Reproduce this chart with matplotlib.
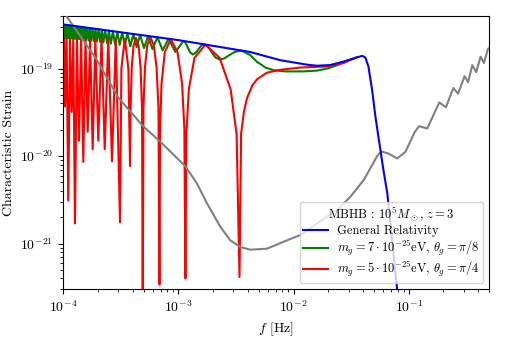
import matplotlib
matplotlib.use("Agg")
import matplotlib.pyplot as plt

# ===== STYLE =====
plt.rcParams["font.family"] = "serif"
plt.rcParams["font.serif"] = ["cmr10", "DejaVu Serif"]
plt.rcParams["mathtext.fontset"] = "cm"
plt.rcParams["axes.formatter.use_mathtext"] = True
plt.rcParams["font.size"] = 10

# ===== DATA =====
# General Relativity
gr_f = [1.0e-4, 1.0e-3, 3.44e-3, 4.2e-3, 7.66e-3, 1.31e-2, 1.6e-2, 2.08e-2, 2.55e-2,
        3.11e-2, 3.5e-2, 3.94e-2, 4.2e-2, 4.46e-2, 4.8e-2, 5.13e-2, 5.5e-2, 6.02e-2,
        6.5e-2, 7.9e-2, 8.5e-2]
gr_h = [3.2e-19, 2.12e-19, 1.62e-19, 1.55e-19, 1.25e-19, 1.11e-19, 1.08e-19, 1.10e-19,
        1.18e-19, 1.27e-19, 1.34e-19, 1.40e-19, 1.34e-19, 1.06e-19, 5.74e-20, 2.84e-20,
        1.53e-20, 6.95e-21, 3.8e-21, 3.1e-22, 1.3e-22]

# m_g = 7e-25 eV, theta_g = pi/8
mg7_f = [1.000e-4, 1.008e-4, 1.024e-4, 1.040e-4, 1.057e-4, 1.075e-4, 1.093e-4, 1.112e-4,
         1.132e-4, 1.152e-4, 1.173e-4, 1.195e-4, 1.217e-4, 1.241e-4, 1.265e-4, 1.291e-4,
         1.317e-4, 1.345e-4, 1.373e-4, 1.404e-4, 1.435e-4, 1.467e-4, 1.500e-4, 1.537e-4,
         1.575e-4, 1.617e-4, 1.660e-4, 1.705e-4, 1.750e-4, 1.800e-4, 1.850e-4, 1.905e-4,
         1.960e-4, 2.025e-4, 2.090e-4, 2.160e-4, 2.230e-4, 2.310e-4, 2.400e-4, 2.490e-4,
         2.590e-4, 2.700e-4, 2.820e-4, 2.950e-4, 3.090e-4, 3.250e-4, 3.420e-4, 3.610e-4,
         3.820e-4, 4.060e-4, 4.340e-4, 4.650e-4, 5.020e-4, 5.450e-4, 5.940e-4, 6.580e-4,
         7.290e-4, 8.200e-4, 9.430e-4, 1.104e-3, 1.153e-3, 1.267e-3, 1.333e-3, 1.406e-3,
         1.577e-3, 1.680e-3, 1.800e-3, 1.934e-3, 2.090e-3, 2.280e-3, 2.500e-3, 2.770e-3,
         3.100e-3, 3.530e-3, 4.200e-3, 4.800e-3, 5.700e-3, 6.700e-3, 8.500e-3, 1.200e-2,
         1.600e-2, 2.000e-2, 2.400e-2, 2.800e-2, 3.200e-2, 3.600e-2]
mg7_h = [2.5e-19, 3.19e-19, 2.23e-19, 3.18e-19, 2.23e-19, 3.16e-19, 2.22e-19, 3.14e-19,
         2.22e-19, 3.12e-19, 2.21e-19, 3.10e-19, 2.20e-19, 3.08e-19, 2.19e-19, 3.06e-19,
         2.18e-19, 3.03e-19, 2.17e-19, 3.01e-19, 2.15e-19, 2.99e-19, 2.14e-19, 2.96e-19,
         2.12e-19, 2.93e-19, 2.10e-19, 2.90e-19, 2.08e-19, 2.88e-19, 2.06e-19, 2.85e-19,
         2.04e-19, 2.82e-19, 2.02e-19, 2.79e-19, 1.99e-19, 2.75e-19, 1.96e-19, 2.72e-19,
         1.93e-19, 2.67e-19, 1.90e-19, 2.63e-19, 1.87e-19, 2.59e-19, 1.84e-19, 2.54e-19,
         1.80e-19, 2.48e-19, 1.76e-19, 2.43e-19, 1.72e-19, 2.36e-19, 1.68e-19, 2.28e-19,
         1.62e-19, 2.19e-19, 1.55e-19, 2.08e-19, 1.97e-19, 1.53e-19, 1.45e-19, 1.51e-19,
         1.83e-19, 1.90e-19, 1.80e-19, 1.56e-19, 1.35e-19, 1.27e-19, 1.31e-19, 1.43e-19,
         1.56e-19, 1.61e-19, 1.43e-19, 1.20e-19, 1.03e-19, 9.6e-20, 9.3e-20, 9.3e-20,
         9.5e-20, 1.01e-19, 1.10e-19, 1.20e-19, 1.28e-19, 1.35e-19]

# m_g = 5e-25 eV, theta_g = pi/4
mg5_f = [1.000e-4, 1.017e-4, 1.035e-4, 1.070e-4, 1.105e-4, 1.143e-4, 1.183e-4, 1.222e-4,
         1.264e-4, 1.315e-4, 1.370e-4, 1.430e-4, 1.493e-4, 1.560e-4, 1.630e-4, 1.710e-4,
         1.800e-4, 1.900e-4, 2.015e-4, 2.150e-4, 2.290e-4, 2.460e-4, 2.650e-4, 2.860e-4,
         3.110e-4, 3.197e-4, 3.420e-4, 3.678e-4, 3.800e-4, 3.843e-4, 3.932e-4, 4.073e-4,
         4.280e-4, 4.510e-4, 4.695e-4, 4.830e-4, 4.900e-4, 4.970e-4, 5.120e-4, 5.360e-4,
         5.710e-4, 6.110e-4, 6.460e-4, 6.710e-4, 6.840e-4, 6.930e-4, 7.130e-4, 7.610e-4,
         8.580e-4, 9.820e-4, 1.076e-3, 1.126e-3, 1.150e-3, 1.172e-3, 1.231e-3, 1.377e-3,
         1.718e-3, 2.278e-3, 2.840e-3, 3.200e-3, 3.390e-3, 3.500e-3, 3.700e-3, 3.940e-3,
         4.400e-3, 4.830e-3, 5.870e-3, 7.660e-3, 1.140e-2, 1.940e-2, 2.730e-2, 3.110e-2,
         3.500e-2]
mg5_h = [6.0e-20, 2.17e-19, 3.7e-20, 2.17e-19, 3.1e-21, 2.17e-19, 3.2e-20, 2.17e-19,
         1.7e-21, 2.17e-19, 1.5e-20, 2.17e-19, 8.6e-21, 2.17e-19, 1.9e-20, 2.17e-19,
         1.2e-20, 2.18e-19, 1.5e-20, 2.18e-19, 1.2e-20, 2.19e-19, 8.7e-21, 2.2e-19,
         1.75e-21, 1.0e-19, 2.2e-19, 1.0e-19, 7.7e-21, 3.5e-20, 1.02e-19, 1.82e-19,
         2.25e-19, 1.82e-19, 1.02e-19, 3.5e-20, 2.0e-22, 3.56e-20, 1.03e-19, 1.85e-19,
         2.28e-19, 1.85e-19, 1.03e-19, 3.56e-20, 3.4e-22, 2.05e-20, 6.73e-20, 1.54e-19,
         2.18e-19, 1.54e-19, 6.73e-20, 2.05e-20, 4.0e-22, 1.77e-20, 5.8e-20, 1.33e-19,
         1.88e-19, 1.33e-19, 5.8e-20, 1.77e-20, 4.15e-22, 1.8e-20, 3.2e-20, 4.6e-20,
         6.5e-20, 7.6e-20, 9.0e-20, 9.7e-20, 1.03e-19, 1.06e-19, 1.16e-19, 1.27e-19,
         1.34e-19]

# detector sensitivity (grey)
sens_f = [1.0e-4, 1.95e-4, 3.01e-4, 4.96e-4, 6.93e-4, 1.14e-3, 1.264e-3, 1.445e-3, 1.77e-3,
          2.31e-3, 2.82e-3, 3.44e-3, 4.2e-3, 5.87e-3, 8.19e-3, 1.14e-2, 1.6e-2, 2.38e-2,
          3.11e-2, 4.06e-2, 4.65e-2, 5.3e-2, 5.79e-2, 6.67e-2, 7.93e-2, 9.36e-2, 1.035e-1,
          1.13e-1, 1.23e-1, 1.445e-1, 1.84e-1, 2.10e-1, 2.44e-1, 2.68e-1, 3.05e-1, 3.27e-1,
          3.56e-1, 3.85e-1, 4.2e-1, 4.49e-1, 4.86e-1, 5.13e-1]
sens_h = [4.5e-19, 1.27e-19, 4.65e-20, 2.18e-20, 1.47e-20, 7.73e-21, 6.37e-21, 4.89e-21,
          2.88e-21, 1.56e-21, 1.09e-21, 9.16e-22, 8.51e-22, 8.74e-22, 1.05e-21, 1.25e-21,
          1.70e-21, 2.42e-21, 3.43e-21, 5.33e-21, 7.3e-21, 1.0e-20, 1.13e-20, 1.07e-20,
          9.41e-21, 1.12e-20, 1.49e-20, 1.9e-20, 2.20e-20, 2.07e-20, 4.11e-20, 3.62e-20,
          6.01e-20, 5.17e-20, 8.2e-20, 7.0e-20, 1.096e-19, 9.12e-20, 1.37e-19, 1.16e-19,
          1.68e-19, 1.79e-19]

y_major = [1e-21, 1e-20, 1e-19]

# ===== PLOT =====
fig = plt.figure(figsize=(5.06, 3.37), dpi=100)
ax = fig.add_axes([0.125, 0.1415, 0.842, 0.811])

ax.loglog(gr_f, gr_h, color="blue", lw=1.5, label="General Relativity", zorder=4)
ax.loglog(mg7_f, mg7_h, color="green", lw=1.5,
          label=r"$m_g = 7\cdot 10^{-25}$eV, $\theta_g = \pi/8$", zorder=2)
ax.loglog(mg5_f, mg5_h, color="red", lw=1.5,
          label=r"$m_g = 5\cdot 10^{-25}$eV, $\theta_g = \pi/4$", zorder=2.5)
ax.loglog(sens_f, sens_h, color="grey", lw=1.5, zorder=3)

ax.set_xlim(1e-4, 0.5)
ax.set_ylim(3e-22, 4e-19)
ax.set_yticks(y_major)
ax.set_xlabel(r"$f$ [Hz]")
ax.set_ylabel("Characteristic Strain")

leg = ax.legend(loc="lower right", title=r"MBHB : $10^5M_\odot$, $z=3$",
                fontsize=9, title_fontsize=9, labelspacing=0.1,
                handlelength=2.0, handletextpad=0.7, borderpad=0.3)
leg.set_zorder(5)

fig.savefig("out.png", dpi=100)
